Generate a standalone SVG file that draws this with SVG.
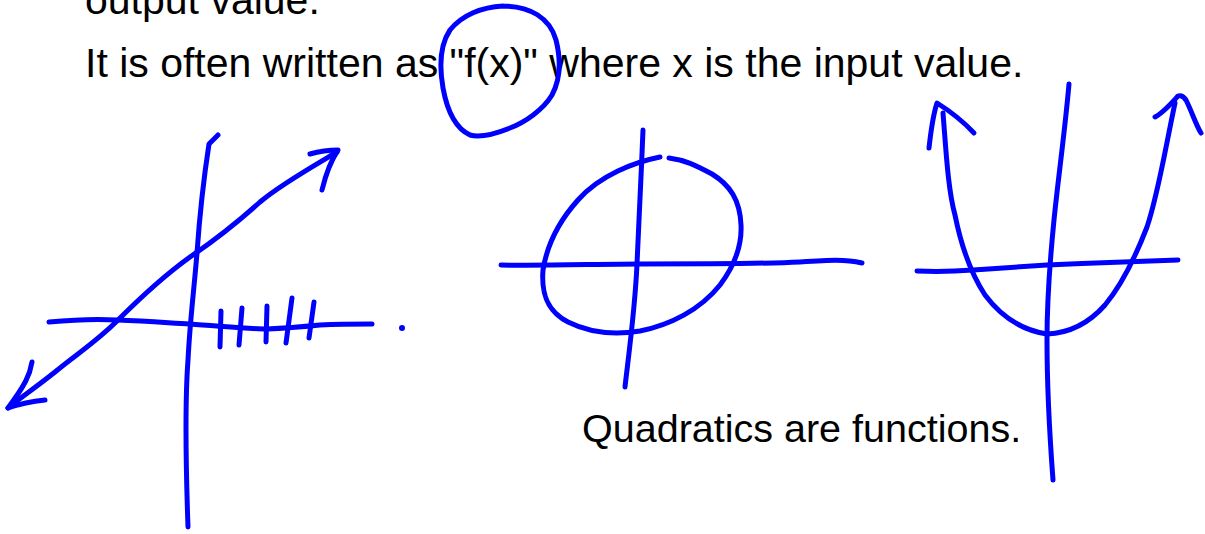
<svg xmlns="http://www.w3.org/2000/svg" width="1205" height="534" viewBox="0 0 1205 534">
<style>
.t{font-family:"Liberation Sans",Arial,sans-serif;fill:#000}
.s{fill:none;stroke:#0000ff;stroke-width:5;stroke-linecap:round;stroke-linejoin:round}
</style>
<rect width="1205" height="534" fill="#fff"/>
<g id="text">
<text class="t" x="85" y="14" font-size="41">output value.</text>
<text class="t" x="85" y="77" font-size="41">It is often written as "f(x)" where x is the input value.</text>
<text class="t" x="582" y="442" font-size="39.5">Quadratics are functions.</text>
</g>
<g id="fx-circle">
<path class="s" d="M503,6 C530,6 550,18 556,40 C561,60 560,80 552,95 C543,110 525,122 510,128 C495,134 480,138 470,135 C455,128 447,110 443,88 C439,65 440,45 450,30 C462,15 482,7 503,6"/>
</g>
<g id="linear-graph">
<path class="s" d="M218,135 L209,144 C205,170 200,210 197,253 C194,290 190,320 188,360 C185,400 186,470 188,527"/>
<path class="s" d="M49,322 C70,320 100,319 117,320 C150,321 170,323 190,324 C220,326 250,329 267,329 C290,328 300,327 320,325 C340,324 360,324 372,324"/>
<path class="s" d="M337,152 C310,168 280,185 260,202 C240,220 215,240 190,257 C165,275 140,298 117,321 C95,343 75,355 55,372 C35,388 20,398 8,408"/>
<path class="s" d="M310,154 Q324,150 338,150 Q328,165 322,190"/>
<path class="s" d="M32,362 C30,375 25,385 8,408 Q25,402 45,400"/>
<path class="s" d="M221,311 L220,347 M242,308 L239,345 M267,306 L266,342 M292,298 L286,343 M314,302 L309,338"/>
<circle cx="402" cy="328" r="3" fill="#0000ff"/>
</g>
<g id="circle-graph">
<path class="s" d="M643,130 C641,180 638,240 637,264 C635,310 628,360 625,387"/>
<path class="s" d="M501,265 C540,266 600,264 640,264 C700,264 760,264 800,262 C830,260 845,259 862,263"/>
<path class="s" d="M660,157 C635,162 600,175 578,200 C560,220 547,245 543,270 C541,295 548,312 568,322 C590,333 615,335 640,331 C670,325 700,310 720,285 C735,265 742,245 741,225 C740,200 730,185 712,174 C695,165 685,160 669,158"/>
</g>
<g id="parabola-graph">
<path class="s" d="M1069,84 C1065,130 1058,180 1054,220 C1050,260 1047,300 1047,340 C1047,400 1050,440 1053,480"/>
<path class="s" d="M917,271 C940,272 960,271 973,270 C1000,268 1030,266 1047,265 C1090,263 1130,262 1178,260"/>
<path class="s" d="M943,113 C946,150 948,190 955,215 C962,250 972,275 985,295 C1000,315 1020,330 1047,334 C1070,333 1090,322 1105,305 C1120,287 1135,258 1147,227 C1158,195 1165,150 1175,103"/>
<path class="s" d="M929,148 C931,130 933,115 937,103 C945,108 960,118 974,133"/>
<path class="s" d="M1155,117 C1163,113 1170,105 1178,96 C1181,95 1184,97 1186,100 C1192,112 1196,125 1201,133"/>
</g>
</svg>
